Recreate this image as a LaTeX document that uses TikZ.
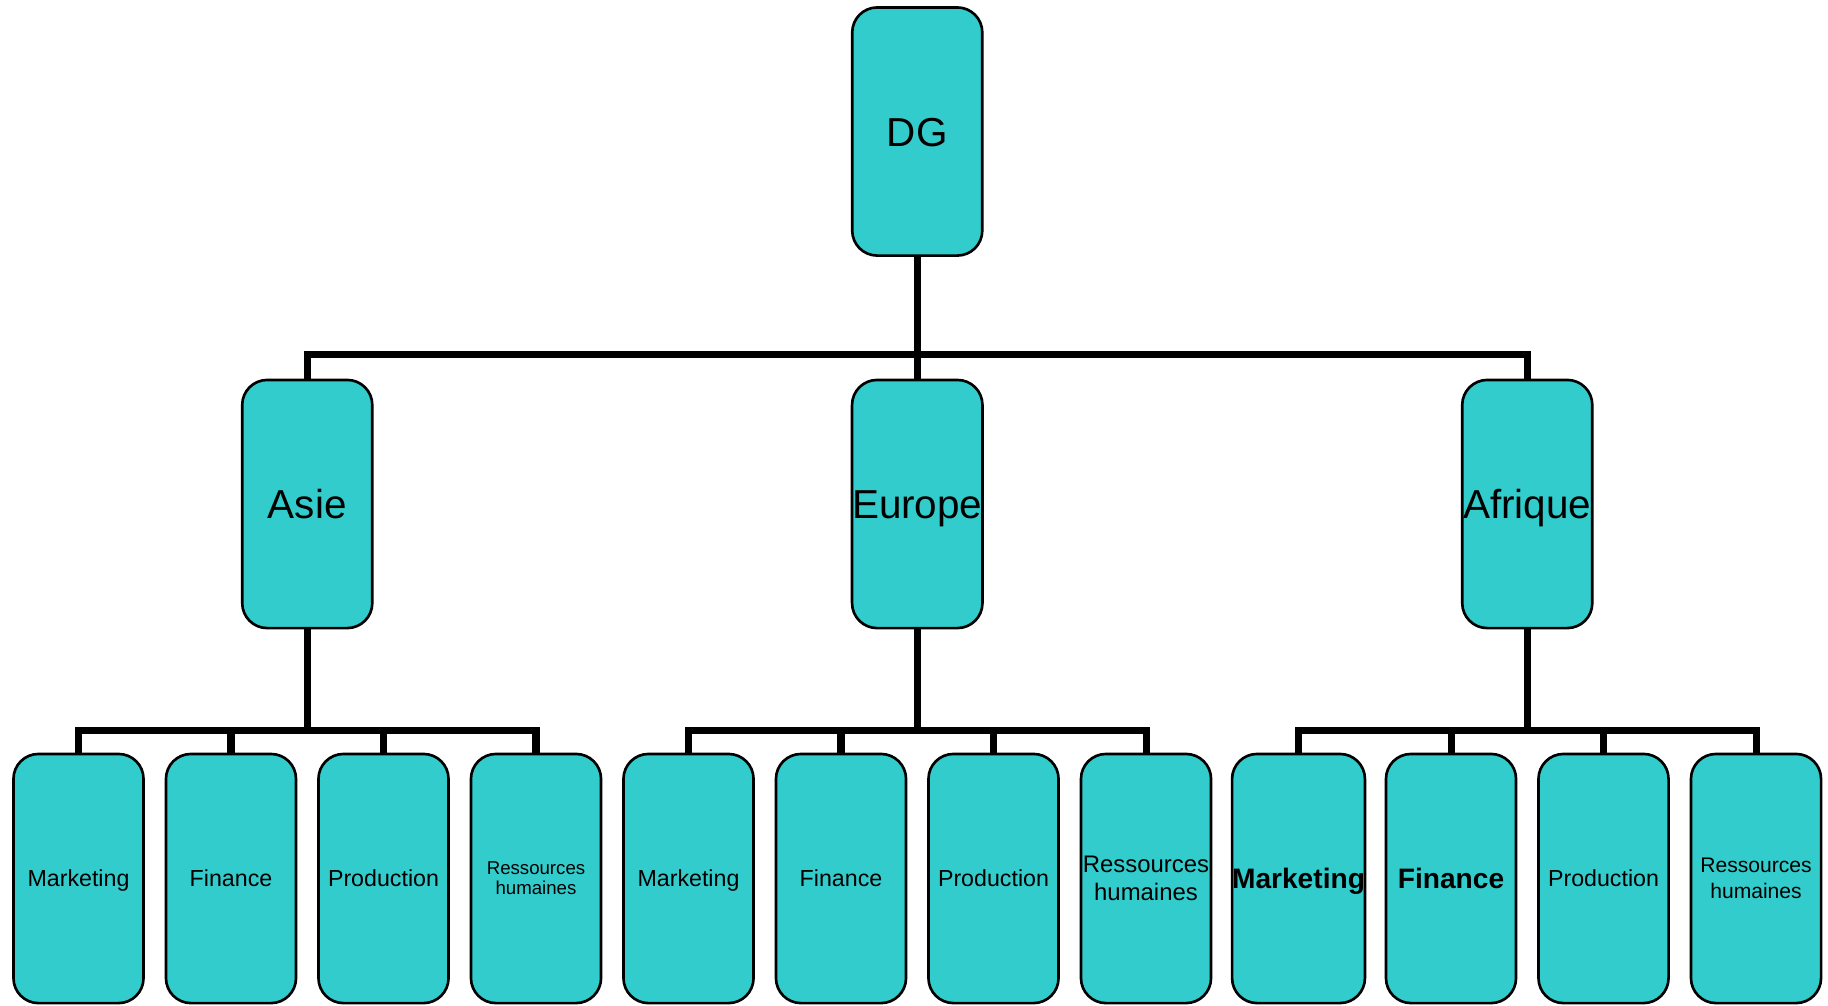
\documentclass[tikz,border=0pt]{standalone}
\usepackage{fontspec}
\setmainfont{Liberation Sans}
\usetikzlibrary{backgrounds}
\definecolor{boxfill}{RGB}{51,204,204}
\tikzset{
  unit/.style={draw=black, line width=0.75pt, fill=boxfill, rounded corners=0.25cm,
    minimum width=1.3cm, minimum height=2.48cm, inner sep=0pt, align=center},
  dept/.style={unit, minimum height=2.49cm},
  conn/.style={line width=2pt, draw=black},
  big/.style={font=\fontsize{11.5}{14}\selectfont, text height=8.3pt, text depth=0pt},
  small/.style={font=\fontsize{6.6}{8}\selectfont, text height=4.75pt, text depth=0pt},
  smallbold/.style={font=\fontsize{8}{9.6}\selectfont\bfseries, text height=5.75pt, text depth=0pt},
}
\begin{document}
\begin{tikzpicture}[x=0.01cm,y=-0.01cm]
\useasboundingbox (0,0) rectangle (1828,1005);

% direction and regions
\node[unit, big] (dg) at (917.25,131.5) {DG};
\node[unit, big] (asie) at (307.25,504) {Asie};
\node[unit, big] (europe) at (917.25,504) {Europe};
\node[unit, big] (afrique) at (1527.25,504) {Afrique};

% departments, Asie
\node[dept, small] (a1) at (78.5,878.5) {Marketing};
\node[dept, small] (a2) at (231,878.5) {Finance};
\node[dept, small] (a3) at (383.5,878.5) {Production};
\node[dept, font=\fontsize{5.3}{5.7}\selectfont] (a4) at (536,878.5) {Ressources\\humaines};

% departments, Europe
\node[dept, small] (e1) at (688.5,878.5) {Marketing};
\node[dept, small] (e2) at (841,878.5) {Finance};
\node[dept, small] (e3) at (993.5,878.5) {Production};
\node[dept, font=\fontsize{6.8}{8}\selectfont] (e4) at (1146,878.5) {Ressources\\humaines};

% departments, Afrique
\node[dept, smallbold] (f1) at (1298.5,878.5) {Marketing};
\node[dept, smallbold] (f2) at (1451,878.5) {Finance};
\node[dept, small] (f3) at (1603.5,878.5) {Production};
\node[dept, font=\fontsize{6}{7.4}\selectfont] (f4) at (1756,878.5) {Ressources\\humaines};

% rails of the tree
\coordinate (r1) at (0,354);
\coordinate (r2) at (0,730);

\begin{scope}[on background layer]
  \draw[conn] (dg.south) -- (europe.north);
  \draw[conn] (asie.north) -- (asie.north |- r1) -- (afrique.north |- r1) -- (afrique.north);
  \foreach \p/\c in {asie/a, europe/e, afrique/f} {
    \draw[conn] (\p.south) -- (\p.south |- r2);
    \draw[conn] (\c1.north) -- (\c1.north |- r2) -- (\c4.north |- r2) -- (\c4.north);
    \draw[conn] (\c2.north) -- (\c2.north |- r2);
    \draw[conn] (\c3.north) -- (\c3.north |- r2);
  }
\end{scope}
\end{tikzpicture}
\end{document}
